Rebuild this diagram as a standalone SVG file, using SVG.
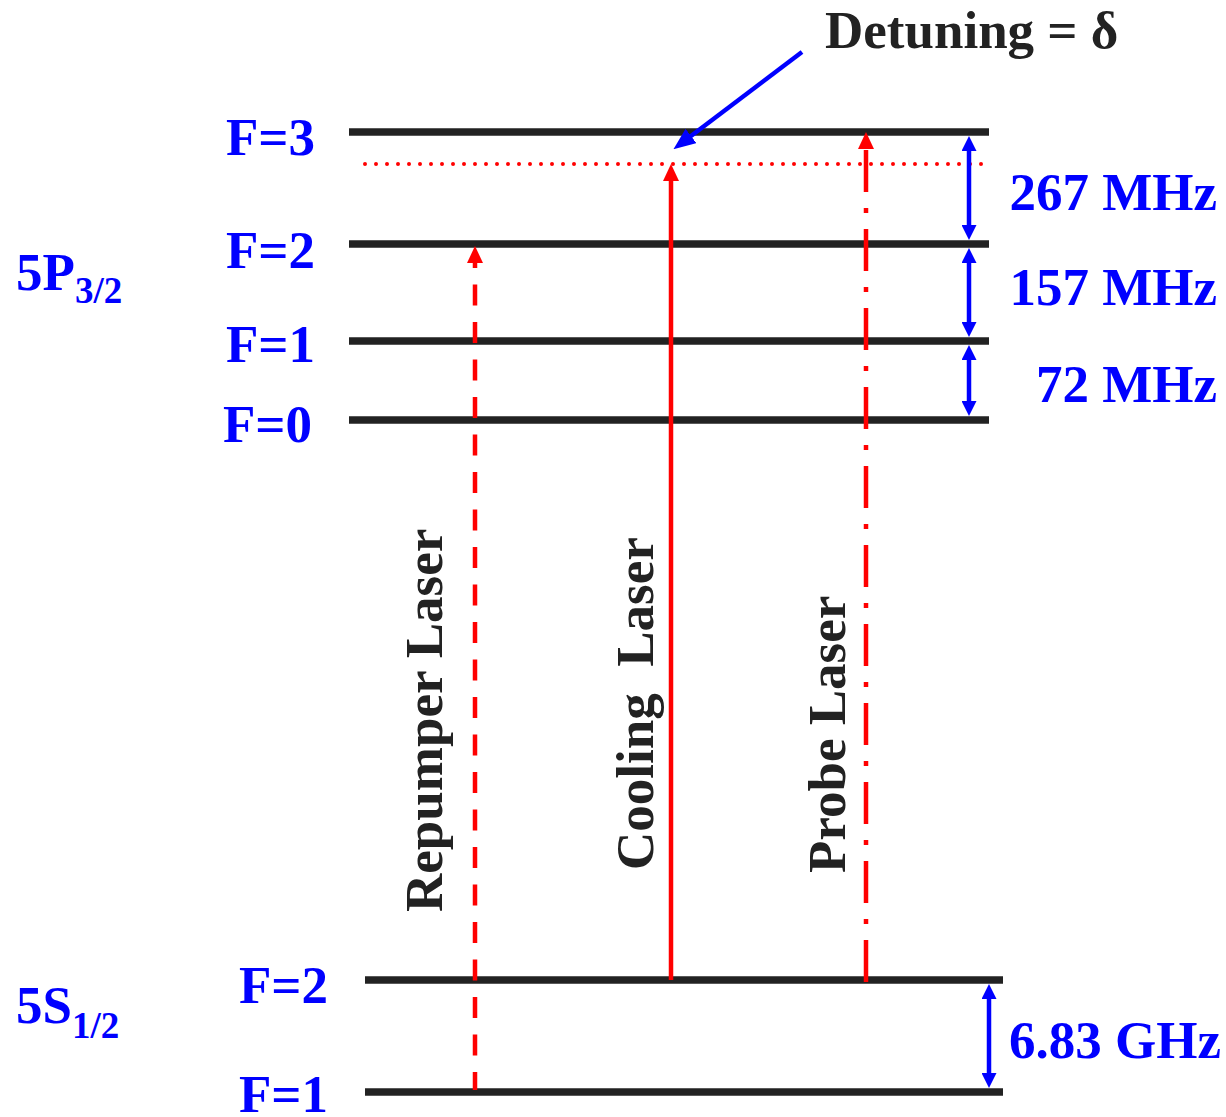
<svg xmlns="http://www.w3.org/2000/svg" width="1226" height="1117" viewBox="0 0 1226 1117">
<style>
.lvl{stroke:#222;stroke-width:7.5;fill:none}
.lab{font-family:"Liberation Serif","Times New Roman",serif;font-weight:bold;font-size:53px;fill:#0000ff}
.sub{font-size:37px}
.dark{fill:#222}
.vlab{font-family:"Liberation Serif","Times New Roman",serif;font-weight:bold;font-size:53px;fill:#222}
.red{stroke:#ff0000;stroke-width:4.5;fill:none}
.blue{stroke:#0000ff;stroke-width:4.5;fill:none}
</style>
<defs>
<marker id="ra" markerUnits="userSpaceOnUse" markerWidth="17" markerHeight="16" viewBox="0 0 17 16" refX="4" refY="8" orient="auto"><path d="M0,0 L17,8 L0,16 z" fill="#ff0000"/></marker>
<marker id="ba" markerUnits="userSpaceOnUse" markerWidth="15" markerHeight="15" viewBox="0 0 15 15" refX="3" refY="7.5" orient="auto-start-reverse"><path d="M0,0 L15,7.5 L0,15 z" fill="#0000ff"/></marker>
<marker id="bp" markerUnits="userSpaceOnUse" markerWidth="22" markerHeight="18" viewBox="0 0 22 18" refX="5" refY="9" orient="auto"><path d="M0,0 L22,9 L0,18 z" fill="#0000ff"/></marker>
</defs>
<g id="levels">
<g id="p-f3"><line class="lvl" x1="349" y1="132" x2="989" y2="132"/><text class="lab" x="226" y="155">F=3</text></g>
<g id="p-f2"><line class="lvl" x1="349" y1="244" x2="989" y2="244"/><text class="lab" x="226" y="268">F=2</text></g>
<g id="p-f1"><line class="lvl" x1="349" y1="341" x2="989" y2="341"/><text class="lab" x="226" y="362">F=1</text></g>
<g id="p-f0"><line class="lvl" x1="349" y1="420" x2="989" y2="420"/><text class="lab" x="223" y="442">F=0</text></g>
<g id="s-f2"><line class="lvl" x1="365" y1="980" x2="1003" y2="980"/><text class="lab" x="239" y="1003">F=2</text></g>
<g id="s-f1"><line class="lvl" x1="365" y1="1092" x2="1003" y2="1092"/><text class="lab" x="239" y="1112">F=1</text></g>
<g id="detuned"><line x1="365" y1="164" x2="990" y2="164" stroke="#ff0000" stroke-width="4" stroke-linecap="round" stroke-dasharray="0 11"/></g>
</g>
<g id="state-labels">
<text id="p32" class="lab" x="16" y="290">5P<tspan class="sub" y="303">3/2</tspan></text>
<text id="s12" class="lab" x="16" y="1023">5S<tspan class="sub" y="1038">1/2</tspan></text>
<text id="detuning" class="lab dark" x="825" y="48">Detuning = δ</text>
<text class="lab" x="1217" y="210" text-anchor="end">267 MHz</text>
<text class="lab" x="1217" y="305" text-anchor="end">157 MHz</text>
<text class="lab" x="1217" y="402" text-anchor="end">72 MHz</text>
<text class="lab" x="1221" y="1058" text-anchor="end">6.83 GHz</text>
<text class="vlab" transform="translate(442,912) rotate(-90)">Repumper Laser</text>
<text class="vlab" transform="translate(653,870) rotate(-90)" xml:space="preserve">Cooling  Laser</text>
<text class="vlab" transform="translate(845,873) rotate(-90)">Probe Laser</text>
</g>
<g id="connectors">
<line id="repumper" class="red" x1="475" y1="1090" x2="475" y2="259" stroke-dasharray="21 16.5" stroke-dashoffset="3" marker-end="url(#ra)"/>
<line id="cooling" class="red" x1="671" y1="980" x2="671" y2="177" marker-end="url(#ra)"/>
<line id="probe" class="red" x1="866" y1="982" x2="866" y2="145" stroke-dasharray="42 16 5 16" marker-end="url(#ra)"/>
<line class="blue" x1="969" y1="148" x2="969" y2="228" marker-start="url(#ba)" marker-end="url(#ba)"/>
<line class="blue" x1="969" y1="260" x2="969" y2="325" marker-start="url(#ba)" marker-end="url(#ba)"/>
<line class="blue" x1="969" y1="357" x2="969" y2="404" marker-start="url(#ba)" marker-end="url(#ba)"/>
<line class="blue" x1="989" y1="996" x2="989" y2="1076" marker-start="url(#ba)" marker-end="url(#ba)"/>
<line class="blue" x1="802" y1="52" x2="687" y2="139" stroke-width="5" marker-end="url(#bp)"/>
</g>
</svg>
